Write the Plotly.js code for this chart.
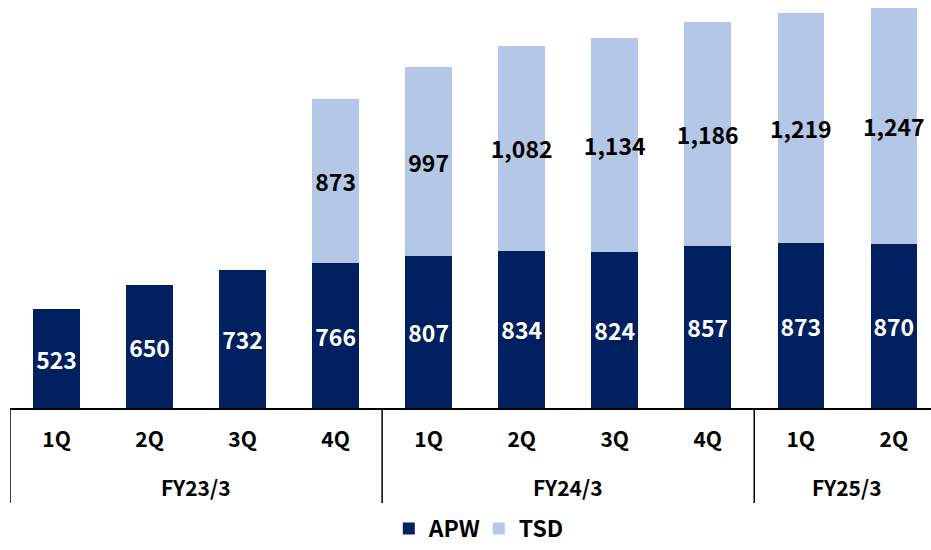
<!DOCTYPE html>
<html>
<head>
<meta charset="utf-8">
<script src="https://cdn.plot.ly/plotly-3.0.1.min.js"></script>
<style>
  html, body { margin: 0; padding: 0; background: #fff; }
  #chart { width: 931px; height: 550px; }
</style>
</head>
<body>
<div id="chart"></div>
<script>
// 四半期ごとの値
const fiscalYears = ["FY23/3", "FY23/3", "FY23/3", "FY23/3",
                     "FY24/3", "FY24/3", "FY24/3", "FY24/3",
                     "FY25/3", "FY25/3"];
const quarters = ["1Q", "2Q", "3Q", "4Q", "1Q", "2Q", "3Q", "4Q", "1Q", "2Q"];
const apw = [523, 650, 732, 766, 807, 834, 824, 857, 873, 870];
const tsd = [null, null, null, 873, 997, 1082, 1134, 1186, 1219, 1247];

const FONT = "'Noto Sans CJK JP', 'Noto Sans', sans-serif";

document.addEventListener("DOMContentLoaded", function() {
  const fmt = v => (v == null ? "" : v.toLocaleString("en-US"));
  const idx = quarters.map((q, i) => i);

  // 年度ごとのグループ (最初と最後のインデックス)
  const groups = [];
  fiscalYears.forEach((fy, i) => {
    const g = groups[groups.length - 1];
    if (g && g.name === fy) g.last = i;
    else groups.push({ name: fy, first: i, last: i });
  });

  const divider = xPos => ({
    type: "line", xref: "x", yref: "paper",
    x0: xPos, x1: xPos, y0: 0, y1: -0.233,
    line: { color: "#000000", width: 1.5 }
  });
  const shapes = groups.map(g => divider(g.first - 0.5));
  shapes.push(divider(groups[groups.length - 1].last + 0.5));

  const annotations = groups.map(g => ({
    x: (g.first + g.last) / 2, xref: "x",
    y: -0.1936, yref: "paper",
    yanchor: "middle", xanchor: "center",
    text: g.name, showarrow: false,
    font: { family: FONT, size: 21, color: "#000000", weight: 700 }
  }));

  const traceApw = {
    x: idx,
    y: apw,
    name: "APW",
    type: "bar",
    marker: { color: "#002060", line: { width: 0 } },
    text: apw.map(fmt),
    textposition: "inside",
    insidetextanchor: "middle",
    textangle: 0,
    constraintext: "none",
    textfont: { family: FONT, size: 23, color: "#ffffff", weight: 700 },
    hoverinfo: "none"
  };

  const traceTsd = {
    x: idx,
    y: tsd,
    name: "TSD",
    type: "bar",
    marker: { color: "#b4c7e7", line: { width: 0 } },
    text: tsd.map(fmt),
    textposition: "inside",
    insidetextanchor: "middle",
    textangle: 0,
    constraintext: "none",
    textfont: { family: FONT, size: 23, color: "#000000", weight: 700 },
    hoverinfo: "none"
  };

  const layout = {
    width: 931,
    height: 550,
    margin: { l: 10, r: 0, t: 0, b: 142 },
    paper_bgcolor: "#ffffff",
    plot_bgcolor: "#ffffff",
    barmode: "stack",
    bargap: 0.5,
    showlegend: true,
    font: { family: FONT, color: "#000000" },
    xaxis: {
      range: [-0.5, 9.4],
      tickmode: "array",
      tickvals: idx,
      ticktext: quarters,
      showline: true,
      linecolor: "#000000",
      linewidth: 1.5,
      ticks: "outside",
      ticklen: 12,
      tickcolor: "rgba(0,0,0,0)",
      showgrid: false,
      zeroline: false,
      tickfont: { family: FONT, size: 21, color: "#000000", weight: 700 }
    },
    yaxis: {
      range: [0, 2161],
      visible: false,
      showgrid: false,
      zeroline: false
    },
    shapes: shapes,
    annotations: annotations,
    legend: {
      orientation: "h",
      traceorder: "normal",
      x: 0.509,
      xanchor: "center",
      yref: "container",
      y: 0,
      yanchor: "bottom",
      entrywidth: 45,
      font: { family: FONT, size: 23, color: "#000000", weight: 700 },
      itemclick: false
    }
  };

  Plotly.newPlot("chart", [traceApw, traceTsd], layout, { staticPlot: true, displayModeBar: false });
});
</script>
</body>
</html>
